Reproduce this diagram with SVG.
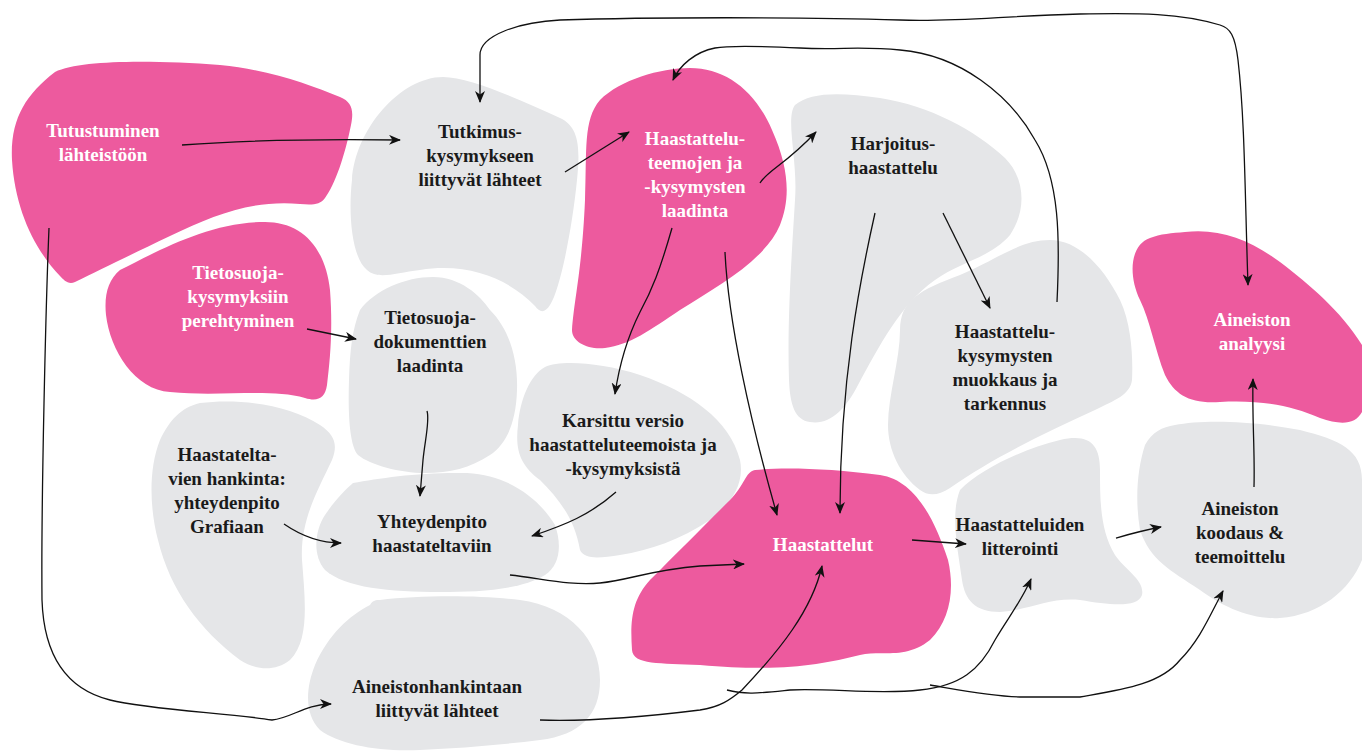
<svg xmlns="http://www.w3.org/2000/svg" width="1362" height="753" viewBox="0 0 1362 753">
<style>
.p{fill:#ED5A9E}
.g{fill:#E5E6E8}
text{font-family:"Liberation Serif","DejaVu Serif",serif;font-size:19px;font-weight:bold;text-anchor:middle}
.w{fill:#ffffff}
.k{fill:#1a1a1a}
.c path{fill:none;stroke:#111;stroke-width:1.3}
</style>
<defs>
<marker id="a" viewBox="0 0 12 10" refX="11" refY="5" markerWidth="12" markerHeight="10" markerUnits="userSpaceOnUse" orient="auto-start-reverse">
<path d="M0,0 L12,5 L0,10 L3.5,5 Z" fill="#111"/>
</marker>
</defs>
<rect width="1362" height="753" fill="#fff"/>

<g id="n-tutustuminen"><path class="p" d="M55,72 C80,60 150,60 220,65 C270,70 310,85 340,97 C352,102 354,110 351,125 C345,155 335,185 325,198 C320,205 312,205 300,204 C250,200 215,215 170,236 C130,255 100,270 75,282 C68,285 64,280 60,276 C35,250 15,210 12,160 C10,120 25,95 55,72 Z"/>
<text class="w" x="103" y="137">Tutustuminen</text><text class="w" x="103" y="161">lähteistöön</text></g>

<g id="n-tietosuojakys"><path class="p" d="M120,270 C160,250 210,222 265,222 C300,222 325,245 330,290 C333,330 330,360 327,385 C325,398 318,402 305,398 C270,388 220,397 170,392 C135,390 110,350 106,315 C104,295 108,280 120,270 Z"/>
<text class="w" x="238" y="279">Tietosuoja-</text><text class="w" x="238" y="303">kysymyksiin</text><text class="w" x="238" y="327">perehtyminen</text></g>

<g id="n-tutkimus"><path class="g" d="M443,77 C470,77 520,100 560,118 C580,127 580,150 577,180 C572,230 560,290 550,305 C545,313 540,313 535,306 C510,280 470,262 420,270 C395,273 378,280 367,270 C352,258 348,215 352,180 C355,130 400,77 443,77 Z"/>
<text class="k" x="480" y="138">Tutkimus-</text><text class="k" x="480" y="162">kysymykseen</text><text class="k" x="480" y="186">liittyvät lähteet</text></g>

<g id="n-teemat"><path class="p" d="M690,68 C725,68 755,90 772,130 C790,170 790,200 780,225 C765,260 720,285 680,310 C650,330 630,345 605,348 C588,350 572,342 572,330 C574,300 582,270 585,200 C587,150 583,120 600,100 C620,80 660,68 690,68 Z"/>
<text class="w" x="695" y="145">Haastattelu-</text><text class="w" x="695" y="169">teemojen ja</text><text class="w" x="695" y="193">-kysymysten</text><text class="w" x="695" y="217">laadinta</text></g>

<g id="n-harjoitus"><path class="g" d="M795,105 C810,92 840,92 880,98 C930,106 975,130 1005,158 C1025,178 1027,210 1010,235 C990,258 960,262 935,280 C900,305 880,345 858,385 C845,410 830,425 810,422 C795,420 790,405 789,380 C787,320 792,250 795,200 C798,160 785,118 795,105 Z"/>
<text class="k" x="893" y="150">Harjoitus-</text><text class="k" x="893" y="174">haastattelu</text></g>

<g id="n-muokkaus"><path class="g" d="M1050,240 C1080,240 1105,270 1120,300 C1132,325 1133,360 1132,380 C1130,395 1115,400 1095,410 C1040,435 990,460 950,488 C938,496 928,496 920,490 C900,475 888,450 888,425 C888,395 900,360 900,330 C900,300 920,290 960,275 C1000,258 1020,240 1050,240 Z"/>
<text class="k" x="1005" y="338">Haastattelu-</text><text class="k" x="1005" y="362">kysymysten</text><text class="k" x="1005" y="386">muokkaus ja</text><text class="k" x="1005" y="410">tarkennus</text></g>

<g id="n-analyysi"><path class="p" d="M1185,232 C1220,228 1250,240 1280,262 C1310,285 1340,310 1362,345 L1362,412 C1355,425 1340,425 1320,418 C1290,405 1260,400 1220,402 C1190,404 1175,395 1165,375 C1155,350 1150,320 1140,300 C1128,275 1130,245 1150,238 C1160,234 1172,233 1185,232 Z"/>
<text class="w" x="1252" y="326">Aineiston</text><text class="w" x="1252" y="350">analyysi</text></g>

<g id="n-tietosuojadok"><path class="g" d="M433,277 C460,277 480,295 490,310 C510,330 518,360 517,390 C516,425 505,445 490,455 C470,468 450,473 425,473 C400,473 370,465 358,455 C349,445 348,410 349,380 C350,350 352,330 360,310 C375,290 405,277 433,277 Z"/>
<text class="k" x="430" y="324">Tietosuoja-</text><text class="k" x="430" y="348">dokumenttien</text><text class="k" x="430" y="372">laadinta</text></g>

<g id="n-karsittu"><path class="g" d="M545,367 C560,360 600,362 640,375 C690,392 730,420 740,460 C745,485 730,505 710,520 C680,540 650,550 620,555 C600,558 585,560 580,550 C575,520 560,500 540,480 C520,465 515,450 518,425 C520,400 530,375 545,367 Z"/>
<text class="k" x="623" y="427">Karsittu versio</text><text class="k" x="623" y="451">haastatteluteemoista ja</text><text class="k" x="623" y="475">-kysymyksistä</text></g>

<g id="n-hankinta"><path class="g" d="M200,403 C240,398 290,405 320,425 C335,435 338,445 332,460 C318,490 300,520 302,560 C305,600 310,640 290,660 C275,672 255,670 240,660 C200,630 170,590 158,540 C150,510 148,470 160,440 C170,420 180,408 200,403 Z"/>
<text class="k" x="227" y="461">Haastatelta-</text><text class="k" x="227" y="485">vien hankinta:</text><text class="k" x="227" y="509">yhteydenpito</text><text class="k" x="227" y="533">Grafiaan</text></g>

<g id="n-yhteydenpito"><path class="g" d="M353,483 C380,478 420,472 467,473 C510,475 540,500 555,525 C562,545 560,565 545,575 C520,590 480,592 440,592 C390,592 345,588 325,570 C312,555 315,530 325,515 C335,500 345,490 353,483 Z"/>
<text class="k" x="432" y="528">Yhteydenpito</text><text class="k" x="432" y="552">haastateltaviin</text></g>

<g id="n-aineistonhankinta"><path class="g" d="M380,600 C420,595 480,595 520,600 C570,607 600,640 600,680 C600,715 580,735 540,740 C500,745 460,748 420,750 C380,752 340,745 320,730 C305,715 305,690 315,665 C328,635 350,615 370,605 C373,600 376,600 380,600 Z"/>
<text class="k" x="437" y="693">Aineistonhankintaan</text><text class="k" x="437" y="717">liittyvät lähteet</text></g>

<g id="n-haastattelut"><path class="p" d="M755,470 C780,467 830,468 880,475 C915,480 935,520 948,560 C955,590 950,620 930,640 C905,660 880,650 860,655 C820,665 780,672 700,665 C660,663 633,665 632,650 C630,620 632,600 650,580 C680,550 700,530 730,500 C745,485 745,472 755,470 Z"/>
<text class="w" x="823" y="551">Haastattelut</text></g>

<g id="n-litterointi"><path class="g" d="M960,490 C980,470 1020,450 1060,440 C1090,433 1100,445 1100,470 C1100,500 1100,530 1115,555 C1125,570 1145,580 1142,595 C1138,608 1110,605 1080,600 C1050,597 1030,610 1000,612 C975,612 965,600 962,580 C958,550 950,515 960,490 Z"/>
<text class="k" x="1020" y="531">Haastatteluiden</text><text class="k" x="1020" y="555">litterointi</text></g>

<g id="n-koodaus"><path class="g" d="M1175,425 C1200,420 1250,420 1300,430 C1340,440 1362,450 1362,480 L1362,560 C1350,590 1320,615 1280,618 C1250,620 1220,605 1200,590 C1170,570 1150,560 1140,530 C1135,500 1137,470 1145,445 C1152,432 1162,427 1175,425 Z"/>
<text class="k" x="1240" y="515">Aineiston</text><text class="k" x="1240" y="539">koodaus &amp;</text><text class="k" x="1240" y="563">teemoittelu</text></g>

<g id="connectors" class="c">
<path marker-end="url(#a)" d="M182,145 C250,140 330,139 400,140"/>
<path marker-end="url(#a)" d="M49,228 C46,300 41,500 42,600 C44,660 70,690 110,700 C150,710 230,713 272,720 C292,718 305,704 331,704"/>
<path marker-end="url(#a)" d="M565,172 L629,132"/>
<path marker-end="url(#a)" d="M760,183 C768,170 785,165 816,132"/>
<path marker-end="url(#a)" d="M1057,302 C1060,240 1060,180 1035,140 C1010,95 960,55 900,50 C860,46 840,50 800,48 C760,46 730,45 715,48 C695,52 680,65 673,80"/>
<path marker-start="url(#a)" marker-end="url(#a)" d="M1248,285 C1245,200 1245,120 1238,60 C1235,35 1230,28 1220,25 C1180,13 1140,13 1080,14 C1000,16 960,22 900,20 C800,17 650,17 560,20 C520,22 480,35 480,55 L480,102"/>
<path marker-end="url(#a)" d="M672,228 C660,270 652,290 640,312 C630,332 620,360 615,394"/>
<path marker-end="url(#a)" d="M725,252 C728,320 750,420 777,515"/>
<path marker-end="url(#a)" d="M875,213 C860,280 840,380 840,513"/>
<path marker-end="url(#a)" d="M943,213 L990,308"/>
<path marker-end="url(#a)" d="M307,329 L356,339"/>
<path marker-end="url(#a)" d="M427,411 C430,420 425,440 423,460 L420,496"/>
<path marker-end="url(#a)" d="M284,524 C300,535 320,543 341,543"/>
<path marker-end="url(#a)" d="M616,492 C590,515 565,525 532,536"/>
<path marker-end="url(#a)" d="M510,575 C540,578 570,586 600,583 C630,580 650,570 700,566 L744,564"/>
<path marker-end="url(#a)" d="M912,540 L966,544"/>
<path marker-end="url(#a)" d="M1116,538 C1130,534 1145,530 1161,527"/>
<path marker-end="url(#a)" d="M1254,487 C1255,450 1252,420 1253,379"/>
<path marker-end="url(#a)" d="M540,720 C600,722 660,715 700,710 C720,707 730,700 742,690 C780,650 812,610 822,566"/>
<path marker-end="url(#a)" d="M727,690 C745,695 760,693 790,690 C830,688 880,695 920,690 C960,686 980,670 995,640 C1010,615 1022,600 1031,579"/>
<path marker-end="url(#a)" d="M930,685 C960,690 990,696 1020,697 L1080,697 C1120,690 1160,685 1180,660 C1200,640 1210,615 1223,591"/>
</g>
</svg>
